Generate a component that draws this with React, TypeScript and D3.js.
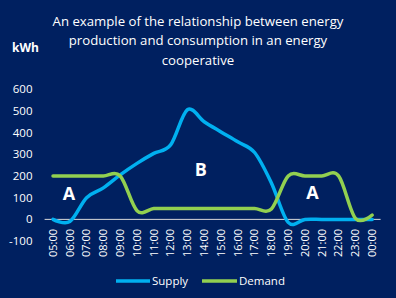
import React from "react";
import * as d3 from "d3";

const categories = ["05:00","06:00","07:00","08:00","09:00","10:00","11:00","12:00","13:00","14:00","15:00","16:00","17:00","18:00","19:00","20:00","21:00","22:00","23:00","00:00"];
const supply = [0, -10, 100, 145, 205, 258, 304, 343, 505, 450, 403, 357, 308, 168, -14, 0, 0, 0, 0, 0];
const demand = [200, 200, 200, 200, 200, 40, 50, 50, 50, 50, 50, 50, 50, 48, 200, 200, 200, 200, 5, 20];
const yTicks = [-100, 0, 100, 200, 300, 400, 500, 600];
const titleLines = ["An example of the relationship between energy", "production and consumption in an energy", "cooperative"];
const areaLabels = [
  { text: "A", pos: 0.95, value: 119 },
  { text: "B", pos: 8.8, value: 227 },
  { text: "A", pos: 15.45, value: 123 },
];
const seriesNames = ["Supply", "Demand"];

const W = 396, H = 298;
const BG = "#002060";
const BLUE = "#00B0F0";
const GREEN = "#92D050";
const FONT = "'Open Sans', 'Noto Sans', sans-serif";

export default function App() {
  const x = d3.scalePoint<string>().domain(categories).range([44.6, 380.6]).padding(0.5);
  const y = d3.scaleLinear().domain([-100, 600]).range([241.1, 89.1]);
  const step = x.step();
  const xf = (p: number) => (x(categories[0]) as number) + p * step;

  const line = d3.line<number>()
    .x((_, i) => x(categories[i]) as number)
    .y((d) => y(d))
    .curve(d3.curveCardinal.tension(0));

  return (
    <svg width={W} height={H} style={{ position: "absolute", left: 0, top: 0 }} fontFamily={FONT}>
      <rect width={W} height={H} fill={BG} />
      {titleLines.map((t, i) => (
        <text key={i} x={198} y={21 + i * 19.5} dy="0.35em" textAnchor="middle" fill="#ffffff" fontSize={13.2}>{t}</text>
      ))}
      <text x={25.5} y={47.5} dy="0.35em" textAnchor="middle" fill="#ffffff" fontSize={12} fontWeight="bold">kWh</text>
      {yTicks.map((t) => (
        <text key={t} x={32.5} y={y(t)} dy="0.35em" textAnchor="end" fill="#ffffff" fontSize={11.5}>{t}</text>
      ))}
      <line x1={44.6} x2={380.6} y1={y(0)} y2={y(0)} stroke="#d9d9d9" strokeWidth={1} />
      {categories.map((c) => (
        <text key={c} transform={`translate(${x(c)},${229}) rotate(-90)`} dy="0.35em" textAnchor="end" fill="#ffffff" fontSize={11}>{c}</text>
      ))}
      <path d={line(supply) as string} fill="none" stroke={BLUE} strokeWidth={3.5} strokeLinecap="round" strokeLinejoin="round" />
      <path d={line(demand) as string} fill="none" stroke={GREEN} strokeWidth={3.5} strokeLinecap="round" strokeLinejoin="round" />
      {areaLabels.map((a, i) => (
        <text key={i} x={xf(a.pos)} y={y(a.value)} dy="0.35em" textAnchor="middle" fill="#ffffff" fontSize={18} fontWeight="bold">{a.text}</text>
      ))}
      <g>
        <line x1={116} x2={150} y1={281} y2={281} stroke={BLUE} strokeWidth={3.5} />
        <text x={152} y={281} dy="0.35em" fill="#ffffff" fontSize={11.5}>{seriesNames[0]}</text>
        <line x1={202} x2={237} y1={281} y2={281} stroke={GREEN} strokeWidth={3.5} />
        <text x={239} y={281} dy="0.35em" fill="#ffffff" fontSize={11.5}>{seriesNames[1]}</text>
      </g>
    </svg>
  );
}
